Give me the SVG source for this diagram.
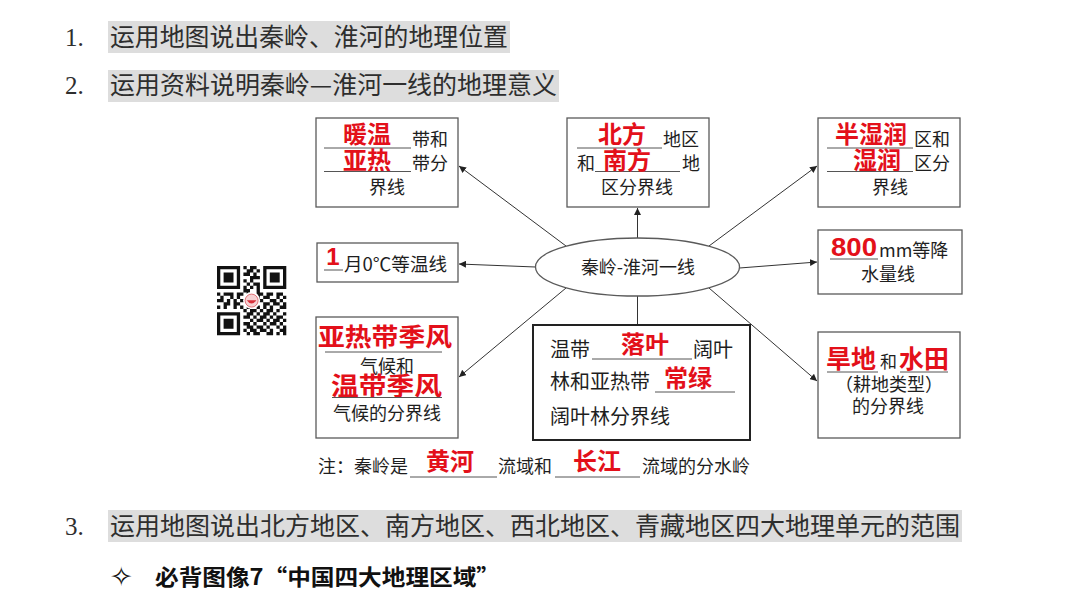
<svg xmlns="http://www.w3.org/2000/svg" width="1080" height="608" viewBox="0 0 1080 608">
<style>
.t{font-family:"Noto Sans CJK SC","Liberation Sans",sans-serif;fill:#1e1e1e}
.h{font-family:"Noto Sans CJK SC","Liberation Sans",sans-serif;fill:#2e2e2e;font-size:25px}
.n{font-family:"Liberation Serif","Noto Sans CJK SC",serif;fill:#2e2e2e;font-size:25px}
.s18{font-size:18px}
.s20{font-size:20px}
.r{font-family:"Noto Sans CJK SC","Liberation Sans",sans-serif;fill:#e3101a;font-weight:bold;font-size:24px}
.rn{font-family:"Liberation Sans","Noto Sans CJK SC",sans-serif;fill:#e3101a;font-weight:bold;font-size:25px}
.box{fill:#fff;stroke:#5a5a5a;stroke-width:1.3}
.ul{stroke:#555;stroke-width:1}
.hl{fill:#dddddd}
.c{stroke:#333;stroke-width:1;fill:none}
.m{text-anchor:middle}
</style>
<defs>
<marker id="ar" viewBox="0 0 10 10" refX="10" refY="5" markerWidth="7" markerHeight="7" orient="auto" markerUnits="userSpaceOnUse">
<path d="M0,0 L10,5 L0,10 z" fill="#222"/>
</marker>
</defs>
<rect width="1080" height="608" fill="#fff"/>

<g id="heading1">
<rect class="hl" x="108" y="21" width="402" height="32"/>
<text class="n" x="65" y="46">1.</text>
<text class="h" x="110" y="46" textLength="398" lengthAdjust="spacingAndGlyphs">运用地图说出秦岭、淮河的地理位置</text>
</g>
<g id="heading2">
<rect class="hl" x="108" y="70" width="451" height="32"/>
<text class="n" x="65" y="94">2.</text>
<text class="h" x="110" y="94" textLength="447" lengthAdjust="spacingAndGlyphs">运用资料说明秦岭—淮河一线的地理意义</text>
</g>

<g id="connectors">
<line class="c" x1="566" y1="246" x2="459" y2="166" marker-end="url(#ar)"/>
<line class="c" x1="637.5" y1="238" x2="637.5" y2="208" marker-end="url(#ar)"/>
<line class="c" x1="709" y1="246" x2="817" y2="166" marker-end="url(#ar)"/>
<line class="c" x1="535.5" y1="267" x2="459" y2="264" marker-end="url(#ar)"/>
<line class="c" x1="739.5" y1="268" x2="817" y2="262" marker-end="url(#ar)"/>
<line class="c" x1="566" y1="288" x2="459" y2="377" marker-end="url(#ar)"/>
<line class="c" x1="637.5" y1="296" x2="637.5" y2="325"/>
<line class="c" x1="709" y1="288" x2="817" y2="381" marker-end="url(#ar)"/>
</g>

<g id="center">
<ellipse class="box" cx="637.5" cy="267" rx="102" ry="29"/>
<text class="t s18 m" x="638" y="274">秦岭-淮河一线</text>
</g>

<g id="box-temp">
<rect class="box" x="316" y="118" width="142" height="89"/>
<text class="r m" x="367" y="143">暖温</text>
<line class="ul" x1="324" y1="148" x2="411" y2="148"/>
<text class="t s18" x="412" y="146">带和</text>
<text class="r m" x="367" y="169">亚热</text>
<line class="ul" x1="324" y1="171.5" x2="411" y2="171.5"/>
<text class="t s18" x="412" y="170">带分</text>
<text class="t s18 m" x="387" y="194">界线</text>
</g>

<g id="box-region">
<rect class="box" x="567" y="118" width="142" height="89"/>
<text class="r m" x="622" y="143">北方</text>
<line class="ul" x1="577" y1="148" x2="662" y2="148"/>
<text class="t s18" x="663" y="146">地区</text>
<text class="t s18" x="577" y="170">和</text>
<line class="ul" x1="595" y1="171.5" x2="680" y2="171.5"/>
<text class="r m" x="627" y="169">南方</text>
<text class="t s18" x="682" y="170">地</text>
<text class="t s18 m" x="637" y="194">区分界线</text>
</g>

<g id="box-humid">
<rect class="box" x="818" y="118" width="142" height="89"/>
<text class="r m" x="871" y="143">半湿润</text>
<line class="ul" x1="827" y1="148" x2="913" y2="148"/>
<text class="t s18" x="914" y="146">区和</text>
<text class="r m" x="877" y="169">湿润</text>
<line class="ul" x1="827" y1="171.5" x2="913" y2="171.5"/>
<text class="t s18" x="914" y="170">区分</text>
<text class="t s18 m" x="890" y="194">界线</text>
</g>

<g id="box-isotherm">
<rect class="box" x="317" y="243" width="141" height="39"/>
<text class="rn m" x="333" y="265" style="font-size:24px">1</text>
<line class="ul" x1="324" y1="270" x2="343" y2="270"/>
<text class="t s18" x="344" y="271" textLength="103" lengthAdjust="spacingAndGlyphs">月0℃等温线</text>
</g>

<g id="box-rain">
<rect class="box" x="818" y="230" width="144" height="64"/>
<text class="rn" x="831" y="256" textLength="46" lengthAdjust="spacingAndGlyphs">800</text>
<line class="ul" x1="830" y1="259" x2="878" y2="259"/>
<text class="t s18" x="879" y="257">mm等降</text>
<text class="t s18 m" x="888" y="281">水量线</text>
</g>

<g id="box-climate">
<rect class="box" x="316" y="317" width="142" height="121"/>
<text class="r" x="318" y="346" textLength="134" lengthAdjust="spacingAndGlyphs" style="font-size:25px">亚热带季风</text>
<line class="ul" x1="325" y1="352" x2="442" y2="352"/>
<text class="t s18 m" x="387" y="373">气候和</text>
<text class="r" x="331" y="395" textLength="111" lengthAdjust="spacingAndGlyphs" style="font-size:25px">温带季风</text>
<line class="ul" x1="332" y1="397.5" x2="442" y2="397.5"/>
<text class="t s18 m" x="387" y="420">气候的分界线</text>
</g>

<g id="box-forest">
<rect x="533" y="325" width="217" height="115" fill="#fff" stroke="#222" stroke-width="2"/>
<text class="t s20" x="550" y="357">温带</text>
<line class="ul" x1="592" y1="359" x2="692" y2="359"/>
<text class="r m" x="645" y="353">落叶</text>
<text class="t s20" x="693" y="357">阔叶</text>
<text class="t s20" x="550" y="389">林和亚热带</text>
<line class="ul" x1="655" y1="392" x2="735" y2="392"/>
<text class="r m" x="688" y="387">常绿</text>
<text class="t s20" x="550" y="424">阔叶林分界线</text>
</g>

<g id="box-farm">
<rect class="box" x="818" y="332" width="142" height="106"/>
<text class="r" x="826" y="368" style="font-size:25px">旱地</text>
<line class="ul" x1="827" y1="372" x2="878" y2="372"/>
<text class="t" x="880" y="368" style="font-size:17px">和</text>
<text class="r" x="899" y="368" style="font-size:25px">水田</text>
<line class="ul" x1="900" y1="372" x2="948" y2="372"/>
<text class="t s18 m" x="889" y="391">（耕地类型）</text>
<text class="t s18 m" x="888" y="413">的分界线</text>
</g>

<g id="note">
<text class="t s18" x="318" y="473">注：秦岭是</text>
<line class="ul" x1="410" y1="477" x2="497" y2="477"/>
<text class="r m" x="450" y="470">黄河</text>
<text class="t s18" x="498" y="473">流域和</text>
<line class="ul" x1="555" y1="477" x2="640" y2="477"/>
<text class="r m" x="597" y="470">长江</text>
<text class="t s18" x="642" y="473">流域的分水岭</text>
</g>

<g id="qrcode">
<rect x="214" y="263" width="75" height="75" fill="#fff"/>
<path transform="translate(217,266) scale(3.3)" fill="#111" d="M0 0h7v1h-7z M8 0h1v1h-1z M10 0h2v1h-2z M14 0h7v1h-7z
M0 1h1v1h-1z M6 1h1v1h-1z M9 1h2v1h-2z M12 1h1v1h-1z M14 1h1v1h-1z M20 1h1v1h-1z
M0 2h1v1h-1z M2 2h3v1h-3z M6 2h1v1h-1z M8 2h2v1h-2z M11 2h1v1h-1z M14 2h1v1h-1z M16 2h3v1h-3z M20 2h1v1h-1z
M0 3h1v1h-1z M2 3h3v1h-3z M6 3h1v1h-1z M10 3h3v1h-3z M14 3h1v1h-1z M16 3h3v1h-3z M20 3h1v1h-1z
M0 4h1v1h-1z M2 4h3v1h-3z M6 4h1v1h-1z M8 4h1v1h-1z M10 4h1v1h-1z M14 4h1v1h-1z M16 4h3v1h-3z M20 4h1v1h-1z
M0 5h1v1h-1z M6 5h1v1h-1z M9 5h1v1h-1z M11 5h2v1h-2z M14 5h1v1h-1z M20 5h1v1h-1z
M0 6h7v1h-7z M8 6h1v1h-1z M10 6h1v1h-1z M12 6h1v1h-1z M14 6h7v1h-7z
M8 7h2v1h-2z M12 7h1v1h-1z
M0 8h1v1h-1z M2 8h3v1h-3z M6 8h2v1h-2z M9 8h1v1h-1z M12 8h2v1h-2z M15 8h2v1h-2z M18 8h2v1h-2z
M1 9h1v1h-1z M4 9h1v1h-1z M6 9h1v1h-1z M9 9h2v1h-2z M12 9h1v1h-1z M14 9h2v1h-2z M18 9h1v1h-1z M20 9h1v1h-1z
M0 10h2v1h-2z M3 10h1v1h-1z M5 10h1v1h-1z M7 10h2v1h-2z M12 10h2v1h-2z M16 10h2v1h-2z M19 10h1v1h-1z
M2 11h2v1h-2z M5 11h2v1h-2z M9 11h3v1h-3z M14 11h2v1h-2z M17 11h2v1h-2z M20 11h1v1h-1z
M0 12h1v1h-1z M2 12h1v1h-1z M5 12h1v1h-1z M7 12h1v1h-1z M9 12h1v1h-1z M12 12h1v1h-1z M14 12h1v1h-1z M16 12h1v1h-1z M19 12h2v1h-2z
M8 13h1v1h-1z M10 13h2v1h-2z M13 13h1v1h-1z M15 13h2v1h-2z M18 13h1v1h-1z
M0 14h7v1h-7z M9 14h2v1h-2z M12 14h1v1h-1z M14 14h2v1h-2z M17 14h1v1h-1z M20 14h1v1h-1z
M0 15h1v1h-1z M6 15h1v1h-1z M8 15h2v1h-2z M11 15h1v1h-1z M13 15h2v1h-2z M16 15h1v1h-1z M18 15h2v1h-2z
M0 16h1v1h-1z M2 16h3v1h-3z M6 16h1v1h-1z M10 16h1v1h-1z M12 16h2v1h-2z M15 16h1v1h-1z M17 16h2v1h-2z M20 16h1v1h-1z
M0 17h1v1h-1z M2 17h3v1h-3z M6 17h1v1h-1z M8 17h2v1h-2z M11 17h1v1h-1z M14 17h1v1h-1z M16 17h2v1h-2z M19 17h1v1h-1z
M0 18h1v1h-1z M2 18h3v1h-3z M6 18h1v1h-1z M9 18h2v1h-2z M12 18h2v1h-2z M15 18h1v1h-1z M18 18h1v1h-1z M20 18h1v1h-1z
M0 19h1v1h-1z M6 19h1v1h-1z M8 19h1v1h-1z M10 19h2v1h-2z M13 19h2v1h-2z M16 19h1v1h-1z M19 19h2v1h-2z
M0 20h7v1h-7z M9 20h1v1h-1z M11 20h2v1h-2z M15 20h2v1h-2z M18 20h1v1h-1z M20 20h1v1h-1z"/>
<circle cx="251.6" cy="300.6" r="8.5" fill="#fff"/>
<circle cx="251.6" cy="300.6" r="6.5" fill="#f6d2d4" stroke="#d9575e" stroke-width="0.8"/>
<path d="M246.8,300.2 Q251.6,307 256.4,300.2 z" fill="#d8313b"/>
</g>

<g id="heading3">
<rect class="hl" x="108" y="510" width="854" height="32"/>
<text class="n" x="65" y="535">3.</text>
<text class="h" x="110" y="535" textLength="850" lengthAdjust="spacingAndGlyphs">运用地图说出北方地区、南方地区、西北地区、青藏地区四大地理单元的范围</text>
</g>
<g id="heading4">
<text x="110" y="586" style="font-family:'DejaVu Sans',sans-serif;font-size:27px;fill:#111">✧</text>
<text x="155" y="585" textLength="345" lengthAdjust="spacingAndGlyphs" style="font-family:'Noto Sans CJK SC','Liberation Sans',sans-serif;font-size:22px;font-weight:bold;fill:#111">必背图像7“中国四大地理区域”</text>
</g>
</svg>
